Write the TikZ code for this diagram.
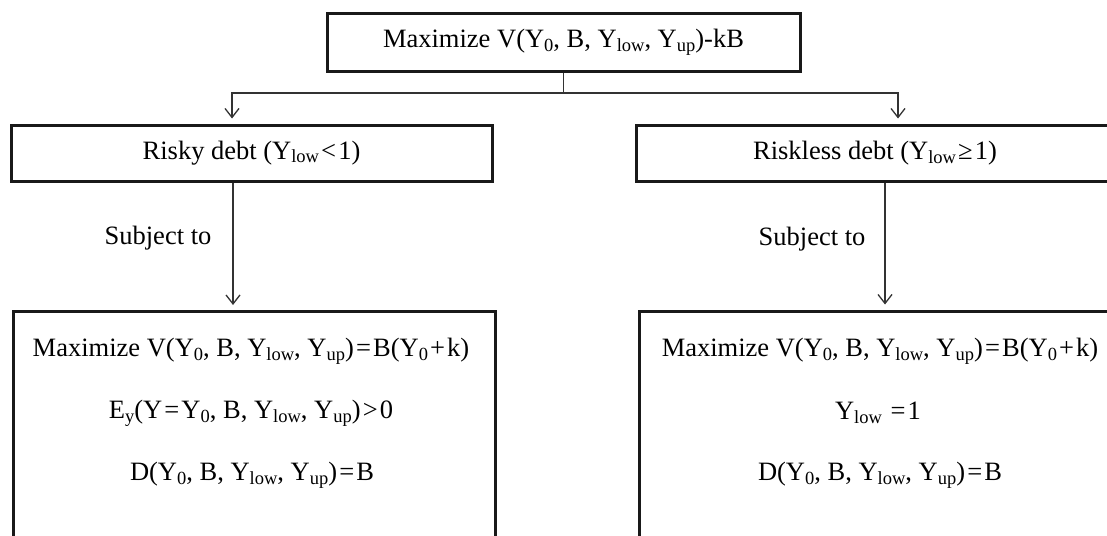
\documentclass[tikz,border=0pt]{standalone}
\usepackage{fontspec}
\setmainfont{Liberation Serif}
\usetikzlibrary{arrows.meta}
% lowered, smaller index text such as Y_low
\newcommand\idx[1]{\raisebox{-0.3ex}{\fontsize{18.5}{18}\selectfont #1}}
% relation signs with a little room around them
\newcommand\rel[1]{\kern0.08em#1\kern0.08em}
\begin{document}
\begin{tikzpicture}[x=1pt,y=-1pt,
  every node/.style={font=\fontsize{26.5}{30}\selectfont},
  frame/.style={draw=black!90, line width=3pt, inner sep=0pt},
  link/.style={draw=black!80, line width=1.3pt},
  arr/.style={link, -{Straight Barb[length=9pt,width=14pt,line width=1.3pt]}, shorten >=5pt}]
\useasboundingbox (0,0) rectangle (1107,535);
\clip (0,0) rectangle (1107,535);

% top objective
\node[frame, minimum width=473pt, minimum height=57pt] (top) at (563.5,42.5)
  {Maximize V(Y\idx{0}, B, Y\idx{low}, Y\idx{up})-kB};

% the two debt cases
\node[frame, minimum width=481pt, minimum height=56pt] (risky) at (251.5,153)
  {Risky debt (Y\idx{low}\rel{<}1)};
\node[frame, minimum width=478pt, minimum height=56pt] (riskless) at (875,153)
  {Riskless debt (Y\idx{low}\rel{≥}1)};

% constraint boxes, running past the lower edge
\node[frame, minimum width=482pt, minimum height=260pt, anchor=north west] (cl) at (11.5,310) {};
\node[frame, minimum width=482pt, minimum height=260pt, anchor=north west] (cr) at (638,309.5) {};

\node[align=center, inner sep=0pt] (tl1) at (251,351) {Maximize V(Y\idx{0}, B, Y\idx{low}, Y\idx{up})\rel{=}B(Y\idx{0}\rel{+}k)};
\node[align=center, inner sep=0pt] (tl2) at (251,413) {E\idx{y}(Y\rel{=}Y\idx{0}, B, Y\idx{low}, Y\idx{up})\rel{>}0};
\node[align=center, inner sep=0pt] (tl3) at (252,475) {D(Y\idx{0}, B, Y\idx{low}, Y\idx{up})\rel{=}B};

\node[align=center, inner sep=0pt] (tr1) at (880,351) {Maximize V(Y\idx{0}, B, Y\idx{low}, Y\idx{up})\rel{=}B(Y\idx{0}\rel{+}k)};
\node[align=center, inner sep=0pt] (tr2) at (878,413) {Y\idx{low} \rel{=}1};
\node[align=center, inner sep=0pt] (tr3) at (880,475) {D(Y\idx{0}, B, Y\idx{low}, Y\idx{up})\rel{=}B};

% branching connectors
\coordinate (jm) at (563.5,93);
\coordinate (jl) at (232,93);
\coordinate (jr) at (898,93);
\draw[link] (top.south -| jm) -- (jm);
\draw[arr] (jm) -- (jl) -- (risky.north -| jl);
\draw[arr] (jm) -- (jr) -- (riskless.north -| jr);

\coordinate (dl) at (233,0);
\coordinate (dr) at (885,0);
\draw[arr] (risky.south -| dl) -- (cl.north -| dl);
\draw[arr] (riskless.south -| dr) -- (cr.north -| dr);

\node (sl) at (158,238) {Subject to};
\node (sr) at (812,239) {Subject to};
\end{tikzpicture}
\end{document}
